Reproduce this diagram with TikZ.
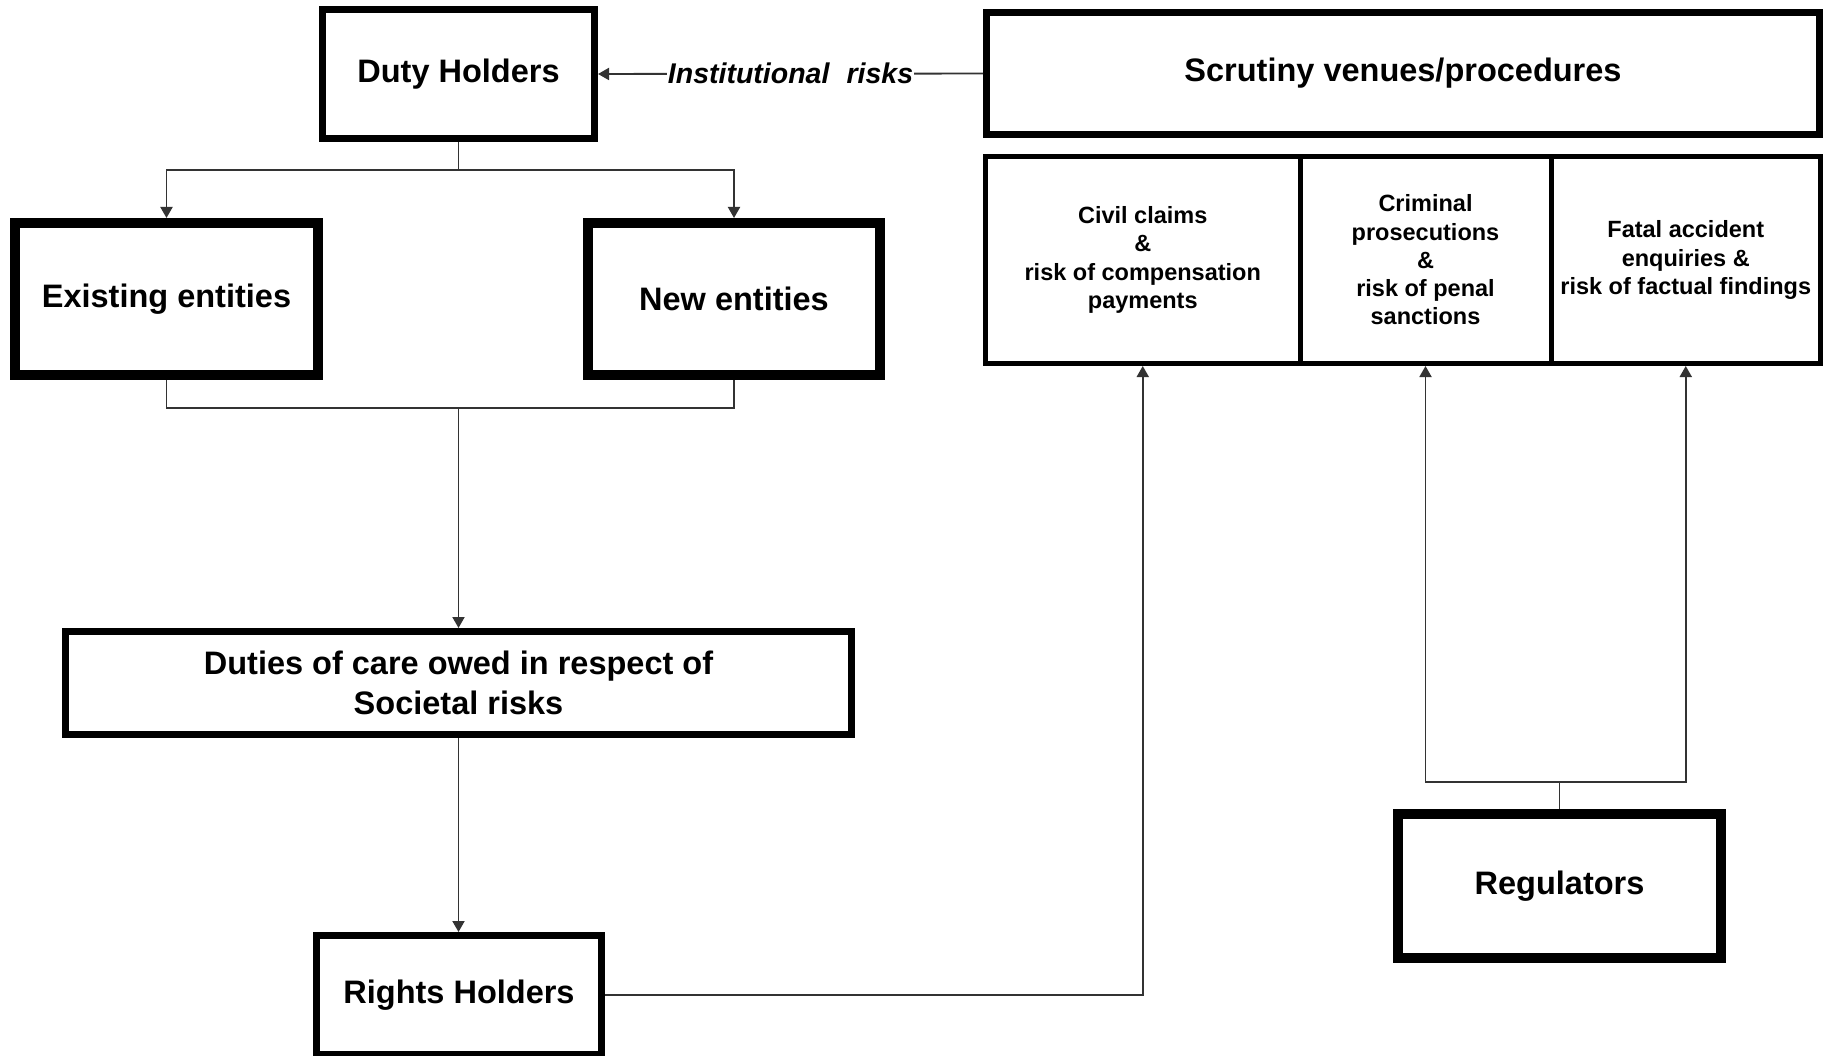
\documentclass[tikz,border=0pt]{standalone}
\usepackage{fontspec}
\setmainfont{Liberation Sans}
\usetikzlibrary{arrows.meta}

\begin{document}
\begin{tikzpicture}[
  x=1pt, y=-1pt,
  bx/.style={draw=black, line width=#1, rectangle, inner sep=0pt, align=center,
             font=\bfseries\fontsize{32.5}{40}\selectfont},
  subbx/.style={draw=black, line width=5pt, rectangle, inner sep=0pt, align=center,
                minimum height=207pt, font=\bfseries\fontsize{23.5}{28.3}\selectfont},
  conn/.style={line width=1.9pt, draw=black!80},
  arr/.style={conn, -{Triangle[length=11pt,width=12pt]}},
  risklabel/.style={fill=white, inner sep=0.5pt, font=\bfseries\itshape\fontsize{28.5}{34}\selectfont}
]
\useasboundingbox (0,0) rectangle (1827,1056);

% main boxes
\node[bx=7pt, minimum width=272pt, minimum height=129pt] (duty) at (458.5,74) {Duty Holders};
\node[bx=7pt, minimum width=833pt, minimum height=122pt] (venues) at (1403,73.5) {Scrutiny venues/procedures};
\node[bx=10pt, minimum width=303pt, minimum height=152pt] (old) at (166.5,299) {Existing entities};
\node[bx=10pt, minimum width=292pt, minimum height=152pt] (new) at (734,299) {New entities};
\node[bx=7pt, minimum width=786pt, minimum height=103pt] (duties) at (458.5,683) {Duties of care owed in respect of\\Societal risks};
\node[bx=7pt, minimum width=285pt, minimum height=119pt] (rights) at (459,995) {Rights Holders};
\node[bx=10pt, minimum width=323pt, minimum height=144pt] (reg) at (1559.5,886) {Regulators};

% scrutiny venues
\node[subbx, minimum width=314.5pt] (civil) at (1142.75,260) {Civil claims\\\&\\risk of compensation\\payments};
\node[subbx, minimum width=251pt] (crim) at (1425.5,260) {Criminal\\prosecutions\\\&\\risk of penal\\sanctions};
\node[subbx, minimum width=269.5pt] (fatal) at (1685.75,260) {Fatal accident\\enquiries \&\\risk of factual findings};

% junction points
\coordinate (split) at (458.5,170);
\coordinate (merge) at (458.5,408);
\coordinate (rsplit) at (1559.5,782);

% connectors
\draw[arr] (venues.west) -- node[risklabel] {Institutional\hspace{0.6em}risks} (duty.east);
\draw[conn] (duty.south) -- (split);
\draw[arr] (split) -| (old.north);
\draw[arr] (split) -| (new.north);
\draw[conn] (old.south) |- (merge) -| (new.south);
\draw[arr] (merge) -- (duties.north);
\draw[arr] (duties.south) -- (duties.south |- rights.north);
\draw[arr] (rights.east) -| (civil.south);
\draw[conn] (reg.north) -- (rsplit);
\draw[arr] (rsplit) -| (crim.south);
\draw[arr] (rsplit) -| (fatal.south);
\end{tikzpicture}
\end{document}
